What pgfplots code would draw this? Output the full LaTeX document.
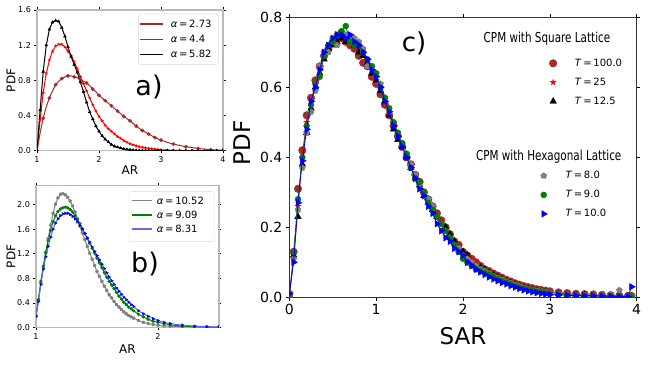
\documentclass[border=0pt]{standalone}
\usepackage{fontspec}
\setmainfont{DejaVu Sans}
\newfontfamily\condfont[FakeStretch=0.76]{DejaVu Sans}
\usepackage{pgfplots}
\usepackage{pgfplotstable}
\pgfplotsset{compat=1.18}
\usetikzlibrary{plotmarks}

\definecolor{mbrown}{HTML}{A52A2A}
\definecolor{mred}{HTML}{FF0000}
\definecolor{mgreen}{HTML}{008000}
\definecolor{mgray}{HTML}{808080}
\definecolor{lblue}{HTML}{6666FF}

% filled five-pointed star
\pgfdeclareplotmark{fstar}{%
  \pgfpathmoveto{\pgfpointpolar{90}{\pgfplotmarksize}}%
  \pgfpathlineto{\pgfpointpolar{126}{0.42\pgfplotmarksize}}%
  \pgfpathlineto{\pgfpointpolar{162}{\pgfplotmarksize}}%
  \pgfpathlineto{\pgfpointpolar{198}{0.42\pgfplotmarksize}}%
  \pgfpathlineto{\pgfpointpolar{234}{\pgfplotmarksize}}%
  \pgfpathlineto{\pgfpointpolar{270}{0.42\pgfplotmarksize}}%
  \pgfpathlineto{\pgfpointpolar{306}{\pgfplotmarksize}}%
  \pgfpathlineto{\pgfpointpolar{342}{0.42\pgfplotmarksize}}%
  \pgfpathlineto{\pgfpointpolar{18}{\pgfplotmarksize}}%
  \pgfpathlineto{\pgfpointpolar{54}{0.42\pgfplotmarksize}}%
  \pgfpathclose\pgfusepathqfill}

% a) AR, alpha = 2.73, 4.4, 5.82
\pgfplotstableread{
x    br    rd     bk
1.00 0.00  0.00   0.00
1.05 0.20  0.35   0.46
1.10 0.37  0.66   0.90
1.15 0.50  0.88   1.20
1.20 0.60  1.03   1.38
1.25 0.68  1.13   1.46
1.30 0.75  1.19   1.48
1.35 0.79  1.21   1.47
1.40 0.82  1.21   1.40
1.45 0.84  1.18   1.30
1.50 0.85  1.13   1.18
1.55 0.85  1.08   1.07
1.60 0.84  1.01   0.98
1.65 0.83  0.93   0.89
1.70 0.81  0.84   0.78
1.75 0.79  0.76   0.67
1.80 0.77  0.68   0.55
1.85 0.74  0.60   0.44
1.90 0.70  0.52   0.36
1.95 0.67  0.45   0.28
2.00 0.63  0.39   0.22
2.05 0.60  0.34   0.17
2.10 0.57  0.29   0.13
2.15 0.54  0.25   0.10
2.20 0.51  0.22   0.07
2.25 0.48  0.19   0.05
2.30 0.45  0.16   0.04
2.35 0.42  0.14   0.03
2.40 0.39  0.115  0.02
2.45 0.365 0.097  0.015
2.50 0.34  0.08   0.01
2.55 0.31  0.067  0.007
2.60 0.28  0.055  0.005
2.65 0.255 0.046  0.003
2.70 0.23  0.038  0.002
2.75 0.21  0.032  0.001
2.80 0.19  0.026  0.001
2.85 0.17  0.021  0.0
2.90 0.15  0.017  0.0
2.95 0.135 0.014  0.0
3.00 0.12  0.011  0.0
3.10 0.095 0.007  0.0
3.20 0.075 0.005  0.0
3.30 0.06  0.003  0.0
3.40 0.045 0.002  0.0
3.50 0.035 0.0015 0.0
3.60 0.025 0.001  0.0
3.70 0.018 0.0    0.0
3.80 0.012 0.0    0.0
3.90 0.008 0.0    0.0
4.00 0.005 0.0    0.0
}\tabA

% b) AR, alpha = 10.52, 9.09, 8.31
\pgfplotstableread{
x    gy    gn    bl
1.00 0.20  0.18  0.18
1.02 0.45  0.45  0.42
1.04 0.72  0.75  0.70
1.06 0.97  1.00  0.95
1.08 1.22  1.22  1.15
1.10 1.45  1.42  1.32
1.12 1.67  1.58  1.47
1.14 1.86  1.72  1.60
1.16 2.01  1.82  1.70
1.18 2.11  1.89  1.77
1.20 2.17  1.93  1.82
1.22 2.18  1.95  1.85
1.24 2.16  1.96  1.86
1.26 2.12  1.95  1.86
1.28 2.06  1.92  1.84
1.30 1.98  1.88  1.81
1.32 1.88  1.82  1.77
1.34 1.77  1.76  1.72
1.36 1.65  1.69  1.66
1.38 1.54  1.61  1.60
1.40 1.43  1.53  1.53
1.42 1.32  1.45  1.46
1.44 1.21  1.37  1.39
1.46 1.11  1.29  1.31
1.48 1.01  1.21  1.24
1.50 0.91  1.13  1.17
1.52 0.83  1.05  1.10
1.54 0.75  0.97  1.03
1.56 0.67  0.89  0.96
1.58 0.60  0.82  0.89
1.60 0.53  0.75  0.82
1.62 0.48  0.69  0.76
1.64 0.42  0.63  0.70
1.66 0.37  0.57  0.64
1.68 0.33  0.51  0.59
1.70 0.29  0.46  0.54
1.72 0.25  0.41  0.49
1.74 0.22  0.37  0.45
1.76 0.19  0.33  0.41
1.78 0.17  0.30  0.37
1.80 0.15  0.27  0.34
1.84 0.11  0.21  0.27
1.88 0.08  0.17  0.22
1.92 0.06  0.13  0.18
1.96 0.045 0.10  0.14
2.00 0.033 0.08  0.11
2.05 0.022 0.06  0.08
2.10 0.015 0.04  0.06
2.20 0.008 0.02  0.035
2.30 0.004 0.01  0.02
2.40 0.002 0.005 0.01
2.50 0.001 0.003 0.005
}\tabB

% c) SAR, square lattice T=100,25,12.5 ; hexagonal T=8,9,10
\pgfplotstableread{
x    br    rd    bk    gy    gn    bl
0.00 0.01  0.00  0.00  0.00  0.00  0.01
0.05 0.13  0.11  0.12  0.11  0.13  0.10
0.10 0.31  0.26  0.23  0.25  0.28  0.27
0.15 0.42  0.41  0.38  0.37  0.40  0.39
0.20 0.52  0.50  0.47  0.47  0.49  0.48
0.25 0.57  0.56  0.54  0.53  0.55  0.56
0.30 0.62  0.61  0.60  0.59  0.61  0.60
0.35 0.66  0.65  0.64  0.66  0.63  0.65
0.40 0.69  0.70  0.68  0.70  0.69  0.70
0.45 0.71  0.72  0.71  0.70  0.72  0.72
0.50 0.73  0.73  0.72  0.74  0.73  0.74
0.55 0.74  0.75  0.73  0.72  0.75  0.75
0.60 0.74  0.74  0.74  0.76  0.76  0.75
0.65 0.73  0.74  0.73  0.75  0.775 0.74
0.70 0.72  0.73  0.74  0.74  0.73  0.75
0.75 0.71  0.72  0.72  0.74  0.72  0.73
0.80 0.69  0.71  0.70  0.73  0.72  0.72
0.85 0.67  0.69  0.69  0.71  0.70  0.70
0.90 0.66  0.67  0.67  0.66  0.68  0.68
0.95 0.63  0.65  0.64  0.66  0.66  0.65
1.00 0.61  0.62  0.62  0.64  0.64  0.63
1.05 0.58  0.59  0.59  0.61  0.60  0.60
1.10 0.55  0.55  0.56  0.57  0.57  0.56
1.15 0.52  0.52  0.52  0.53  0.54  0.53
1.20 0.49  0.49  0.48  0.50  0.50  0.49
1.25 0.46  0.46  0.45  0.47  0.47  0.46
1.30 0.43  0.43  0.43  0.44  0.44  0.43
1.35 0.40  0.40  0.40  0.41  0.41  0.40
1.40 0.38  0.37  0.37  0.38  0.37  0.37
1.45 0.35  0.35  0.34  0.35  0.34  0.34
1.50 0.33  0.32  0.32  0.32  0.33  0.31
1.55 0.30  0.30  0.29  0.30  0.30  0.29
1.60 0.28  0.28  0.27  0.28  0.27  0.26
1.65 0.26  0.25  0.25  0.26  0.25  0.24
1.70 0.24  0.23  0.23  0.23  0.23  0.21
1.75 0.22  0.21  0.21  0.21  0.21  0.19
1.80 0.20  0.19  0.20  0.19  0.19  0.17
1.85 0.18  0.17  0.18  0.17  0.17  0.16
1.90 0.16  0.16  0.16  0.15  0.15  0.14
1.95 0.15  0.14  0.14  0.14  0.13  0.13
2.00 0.13  0.13  0.13  0.12  0.11  0.12
2.05 0.12  0.12  0.12  0.11  0.10  0.10
2.10 0.11  0.11  0.10  0.10  0.09  0.09
2.15 0.10  0.10  0.09  0.09  0.08  0.08
2.20 0.09  0.09  0.085 0.08  0.075 0.072
2.25 0.08  0.08  0.08  0.075 0.07  0.065
2.30 0.075 0.072 0.07  0.068 0.065 0.058
2.35 0.068 0.066 0.064 0.06  0.058 0.052
2.40 0.062 0.06  0.058 0.055 0.052 0.047
2.45 0.056 0.054 0.052 0.05  0.046 0.042
2.50 0.05  0.048 0.046 0.044 0.042 0.038
2.55 0.045 0.043 0.041 0.04  0.037 0.033
2.60 0.040 0.038 0.036 0.035 0.032 0.029
2.65 0.036 0.034 0.032 0.031 0.028 0.025
2.70 0.032 0.030 0.028 0.027 0.025 0.021
2.75 0.029 0.026 0.024 0.023 0.022 0.018
2.80 0.026 0.023 0.021 0.02  0.019 0.015
2.85 0.023 0.020 0.018 0.018 0.016 0.013
2.90 0.021 0.018 0.016 0.016 0.014 0.011
2.95 0.019 0.016 0.014 0.014 0.012 0.009
3.00 0.017 0.014 0.012 0.012 0.010 0.008
3.10 0.014 0.012 0.010 0.010 0.008 0.007
3.20 0.012 0.010 0.008 0.008 0.007 0.006
3.30 0.010 0.008 0.007 0.007 0.006 0.005
3.40 0.009 0.007 0.006 0.006 0.005 0.004
3.50 0.008 0.006 0.005 0.005 0.004 0.004
3.60 0.007 0.005 0.004 0.005 0.004 0.003
3.70 0.006 0.005 0.004 0.006 0.003 0.003
3.80 0.005 0.004 0.003 0.020 0.003 0.002
3.90 0.004 0.003 0.003 0.004 0.002 0.002
3.94 0.004 0.003 0.002 0.003 0.002 0.030
}\tabC

\tikzset{keytext/.style={anchor=west, inner sep=0pt, font=\fontsize{10}{12}\selectfont}}

\pgfplotsset{
  /pgf/number format/assume math mode=true,
  small panel/.style={
    scale only axis,
    axis line style={gray!55, line width=1.2pt},
    tick align=outside, major tick length=2.5pt,
    tick style={black, line width=0.5pt},
    tick label style={font=\fontsize{8}{9}\selectfont},
    y tick label style={/pgf/number format/fixed, /pgf/number format/fixed zerofill, /pgf/number format/precision=1},
    label style={font=\fontsize{12}{14}\selectfont},
    xlabel style={at={(axis description cs:0.5,0)}, anchor=center},
    ylabel style={at={(axis description cs:0,0.5)}, anchor=center},
  },
  big legend/.style={
    legend style={draw=none, fill=none, inner sep=0pt, anchor=north west,
      font=\fontsize{10}{13}\selectfont,
      nodes={inner sep=0pt, text height=8pt, text depth=2.5pt},
      row sep=8.5pt, column sep=18pt, cells={anchor=west}},
    legend image code/.code={\draw[##1] plot coordinates {(0pt,0pt)};},
  },
}

\begin{document}
\begin{tikzpicture}[x=1pt,y=1pt]
\fill[white] (0,0) rectangle (654,366);
\useasboundingbox (0,0) rectangle (654,366);

% ---------- a)
\begin{axis}[small panel,
  at={(37pt,215.3pt)}, anchor=south west, width=186pt, height=140.7pt,
  xmin=1, xmax=4, ymin=0, ymax=1.6,
  xtick={1,2,3,4}, ytick={0,0.4,0.8,1.2,1.6},
  xlabel={AR}, ylabel={PDF},
  xlabel style={yshift=-19pt}, ylabel style={yshift=26pt},
  clip marker paths=true]
\addplot[mbrown, line width=1pt] table[x=x,y=br]{\tabA};
\addplot[mred, line width=1pt] table[x=x,y=rd]{\tabA};
\addplot[black, line width=1pt] table[x=x,y=bk]{\tabA};
\addplot[mbrown, only marks, mark=*, mark size=1.7pt, mark repeat=2] table[x=x,y=br]{\tabA};
\addplot[mred, only marks, mark=fstar, mark size=1.9pt] table[x=x,y=rd]{\tabA};
\addplot[black, only marks, mark=triangle*, mark size=1.6pt] table[x=x,y=bk]{\tabA};
% legend box
\filldraw[fill=white, draw=gray!30, rounded corners=2pt]
  (rel axis cs:0.545,0.614) rectangle (rel axis cs:0.975,0.972);
\draw[mbrown, line width=1.5pt] (rel axis cs:0.554,0.900) -- (rel axis cs:0.679,0.900);
\draw[mred, line width=1.5pt] (rel axis cs:0.554,0.792) -- (rel axis cs:0.679,0.792);
\draw[black, line width=1.5pt] (rel axis cs:0.554,0.685) -- (rel axis cs:0.679,0.685);
\node[keytext] at (rel axis cs:0.719,0.900) {\textit{α}\,=\,2.73};
\node[keytext] at (rel axis cs:0.719,0.792) {\textit{α}\,=\,4.4};
\node[keytext] at (rel axis cs:0.719,0.685) {\textit{α}\,=\,5.82};
\end{axis}

% ---------- b)
\begin{axis}[small panel,
  at={(36pt,38.7pt)}, anchor=south west, width=183pt, height=141.6pt,
  xmin=1, xmax=2.5, ymin=0, ymax=2.31,
  xtick={1,2}, ytick={0,0.4,0.8,1.2,1.6,2.0},
  xlabel={AR}, ylabel={PDF},
  xlabel style={yshift=-22pt}, ylabel style={yshift=25pt},
  clip marker paths=true]
\addplot[mgray, line width=1pt] table[x=x,y=gy]{\tabB};
\addplot[mgreen, line width=1pt] table[x=x,y=gn]{\tabB};
\addplot[lblue, line width=1pt] table[x=x,y=bl]{\tabB};
\addplot[mgray, only marks, mark=pentagon*, mark size=1.6pt] table[x=x,y=gy]{\tabB};
\addplot[mgreen, only marks, mark=*, mark size=1.5pt] table[x=x,y=gn]{\tabB};
\addplot[blue, only marks, mark=triangle*, mark size=1.6pt, mark options={rotate=-90}] table[x=x,y=bl]{\tabB};
% legend box
\filldraw[fill=white, draw=gray!30, rounded corners=2pt]
  (rel axis cs:0.508,0.605) rectangle (rel axis cs:0.974,0.958);
\draw[mgray, line width=1.5pt] (rel axis cs:0.523,0.894) -- (rel axis cs:0.632,0.894);
\draw[mgreen, line width=1.5pt] (rel axis cs:0.523,0.793) -- (rel axis cs:0.632,0.793);
\draw[lblue, line width=1.5pt] (rel axis cs:0.523,0.694) -- (rel axis cs:0.632,0.694);
\node[keytext] at (rel axis cs:0.660,0.894) {\textit{α}\,=\,10.52};
\node[keytext] at (rel axis cs:0.660,0.793) {\textit{α}\,=\,9.09};
\node[keytext] at (rel axis cs:0.660,0.694) {\textit{α}\,=\,8.31};
\end{axis}

% ---------- c) square lattice (with the axes)
\begin{axis}[big legend,
  scale only axis,
  at={(289.3pt,68.7pt)}, anchor=south west, width=347.4pt, height=280pt,
  xmin=0, xmax=4, ymin=0, ymax=0.8,
  xtick={0,1,2,3,4}, ytick={0,0.2,0.4,0.6,0.8},
  axis line style={black!80, line width=0.8pt},
  tick align=outside, major tick length=3.5pt,
  tick style={black, line width=0.6pt},
  tick label style={font=\fontsize{14}{16}\selectfont},
  y tick label style={/pgf/number format/fixed, /pgf/number format/fixed zerofill, /pgf/number format/precision=1},
  xlabel={SAR}, ylabel={PDF},
  label style={font=\fontsize{23}{26}\selectfont},
  xlabel style={at={(axis description cs:0.5,0)}, anchor=center, yshift=-38.4pt},
  ylabel style={at={(axis description cs:0,0.551)}, anchor=center, yshift=46.8pt},
  legend style={at={(0.748,0.855)}},
  clip marker paths=true]
\addplot[mred, line width=0.8pt, forget plot] table[x=x,y=rd]{\tabC};
\addplot[mbrown, only marks, mark=*, mark size=3.8pt] table[x=x,y=br]{\tabC};
\addlegendentry{\textit{T}\,=\,100.0}
\addplot[mred, only marks, mark=fstar, mark size=3.6pt] table[x=x,y=rd]{\tabC};
\addlegendentry{\textit{T}\,=\,25}
\addplot[black, only marks, mark=triangle*, mark size=3.8pt] table[x=x,y=bk]{\tabC};
\addlegendentry{\textit{T}\,=\,12.5}
\end{axis}

% ---------- c) hexagonal lattice (overlay)
\begin{axis}[big legend,
  scale only axis, hide axis,
  at={(289.3pt,68.7pt)}, anchor=south west, width=347.4pt, height=280pt,
  xmin=0, xmax=4, ymin=0, ymax=0.8,
  legend style={at={(0.723,0.453)}},
  clip marker paths=true]
\addplot[mgray, only marks, mark=pentagon*, mark size=3.2pt] table[x=x,y=gy]{\tabC};
\addlegendentry{\textit{T}\,=\,8.0}
\addplot[mgreen, line width=0.8pt, forget plot] table[x=x,y=gn]{\tabC};
\addplot[mgreen, only marks, mark=*, mark size=3pt] table[x=x,y=gn]{\tabC};
\addlegendentry{\textit{T}\,=\,9.0}
\addplot[blue, line width=0.8pt, forget plot] table[x=x,y=bl]{\tabC};
\addplot[blue, only marks, mark=triangle*, mark size=3.8pt, mark options={rotate=-90}] table[x=x,y=bl]{\tabC};
\addlegendentry{\textit{T}\,=\,10.0}
\end{axis}

% panel letters and legend titles
\node[font=\fontsize{27}{30}\selectfont] at (149,279.3) {a)};
\node[font=\fontsize{27}{30}\selectfont] at (145,101.8) {b)};
\node[font=\fontsize{26}{30}\selectfont] at (414,323) {c)};
\node[font=\condfont\fontsize{13.7}{16}\selectfont] at (547,327) {CPM with Square Lattice};
\node[font=\condfont\fontsize{13.7}{16}\selectfont] at (548.7,209.3) {CPM with Hexagonal Lattice};
\end{tikzpicture}
\end{document}
